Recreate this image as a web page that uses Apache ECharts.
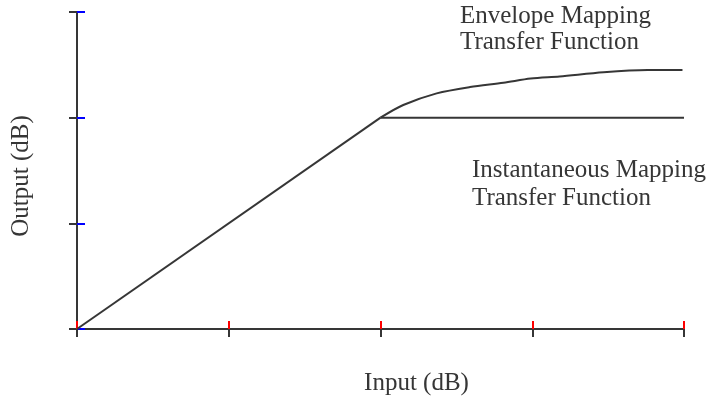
<!DOCTYPE html>
<html>
<head>
<meta charset="utf-8">
<script src="https://cdn.jsdelivr.net/npm/echarts@6/dist/echarts.min.js"></script>
<style>
  html, body { margin: 0; padding: 0; background: #fff; }
  #chart { width: 707px; height: 401px; }
</style>
</head>
<body>
<div id="chart"></div>
<script>
// Input/output levels in tick units (dB scale divisions)
const linearInput = [0, 2];
const linearOutput = [0, 2];
const instantInput = [2, 4];
const instantOutput = [2, 2];
const envelopeInput = [2, 2.15, 2.37, 2.59, 2.81, 2.99, 3.18, 3.47, 3.76, 3.99];
const envelopeOutput = [2, 2.12, 2.23, 2.29, 2.33, 2.37, 2.39, 2.43, 2.45, 2.45];
const xTickCount = 4;
const yTickCount = 3;

const ink = '#363636';
const serif = '"Liberation Serif", "DejaVu Serif", serif';

const W = 707, H = 401;
const grid = { left: 77, right: 23, top: 12, bottom: 72 };
const plotW = W - grid.left - grid.right;
const plotH = H - grid.top - grid.bottom;

const zip = (xs, ys) => xs.map((x, i) => [x, ys[i]]);

function valueAxis(max, tickColor, extra) {
  return Object.assign({
    type: 'value', min: 0, max: max, interval: 1,
    axisLine: { show: true, onZero: false, lineStyle: { color: ink, width: 2 } },
    axisTick: { show: true, length: 8, lineStyle: { color: tickColor, width: 2 } },
    axisLabel: { show: false },
    splitLine: { show: false }
  }, extra || {});
}

const nameStyle = { fontFamily: serif, fontSize: 25, color: ink };

const chart = echarts.init(document.getElementById('chart'), null, { renderer: 'canvas' });
chart.setOption({
  animation: false,
  backgroundColor: '#fff',
  grid: grid,
  // The opposite-side axes are shifted onto the main axis lines so every tick crosses its axis
  xAxis: [
    valueAxis(xTickCount, ink, {
      position: 'bottom',
      name: 'Input (dB)', nameLocation: 'middle', nameGap: 42,
      nameTextStyle: Object.assign({ padding: [0, 0, 0, 72] }, nameStyle)
    }),
    valueAxis(xTickCount, 'red', { position: 'top', offset: -plotH })
  ],
  yAxis: [
    valueAxis(yTickCount, ink, {
      position: 'left',
      name: 'Output (dB)', nameLocation: 'middle', nameGap: 43,
      nameTextStyle: Object.assign({ padding: [0, 11, 0, 0] }, nameStyle)
    }),
    valueAxis(yTickCount, 'blue', { position: 'right', offset: -plotW })
  ],
  series: [
    {
      type: 'line', data: zip(linearInput, linearOutput), symbol: 'none',
      lineStyle: { color: ink, width: 2 }
    },
    {
      type: 'line', xAxisIndex: 1, yAxisIndex: 1,
      data: zip(instantInput, instantOutput), symbol: 'none',
      lineStyle: { color: ink, width: 2 }
    },
    {
      type: 'line', data: zip(envelopeInput, envelopeOutput), symbol: 'none', smooth: 0.3,
      lineStyle: { color: ink, width: 2 }
    }
  ],
  graphic: [
    {
      type: 'text', left: 460, top: 3,
      style: { text: 'Envelope Mapping\nTransfer Function', font: '25px ' + serif, fill: ink, lineHeight: 26 }
    },
    {
      type: 'text', left: 472, top: 156,
      style: { text: 'Instantaneous Mapping\nTransfer Function', font: '25px ' + serif, fill: ink, lineHeight: 28 }
    }
  ]
});
</script>
</body>
</html>
